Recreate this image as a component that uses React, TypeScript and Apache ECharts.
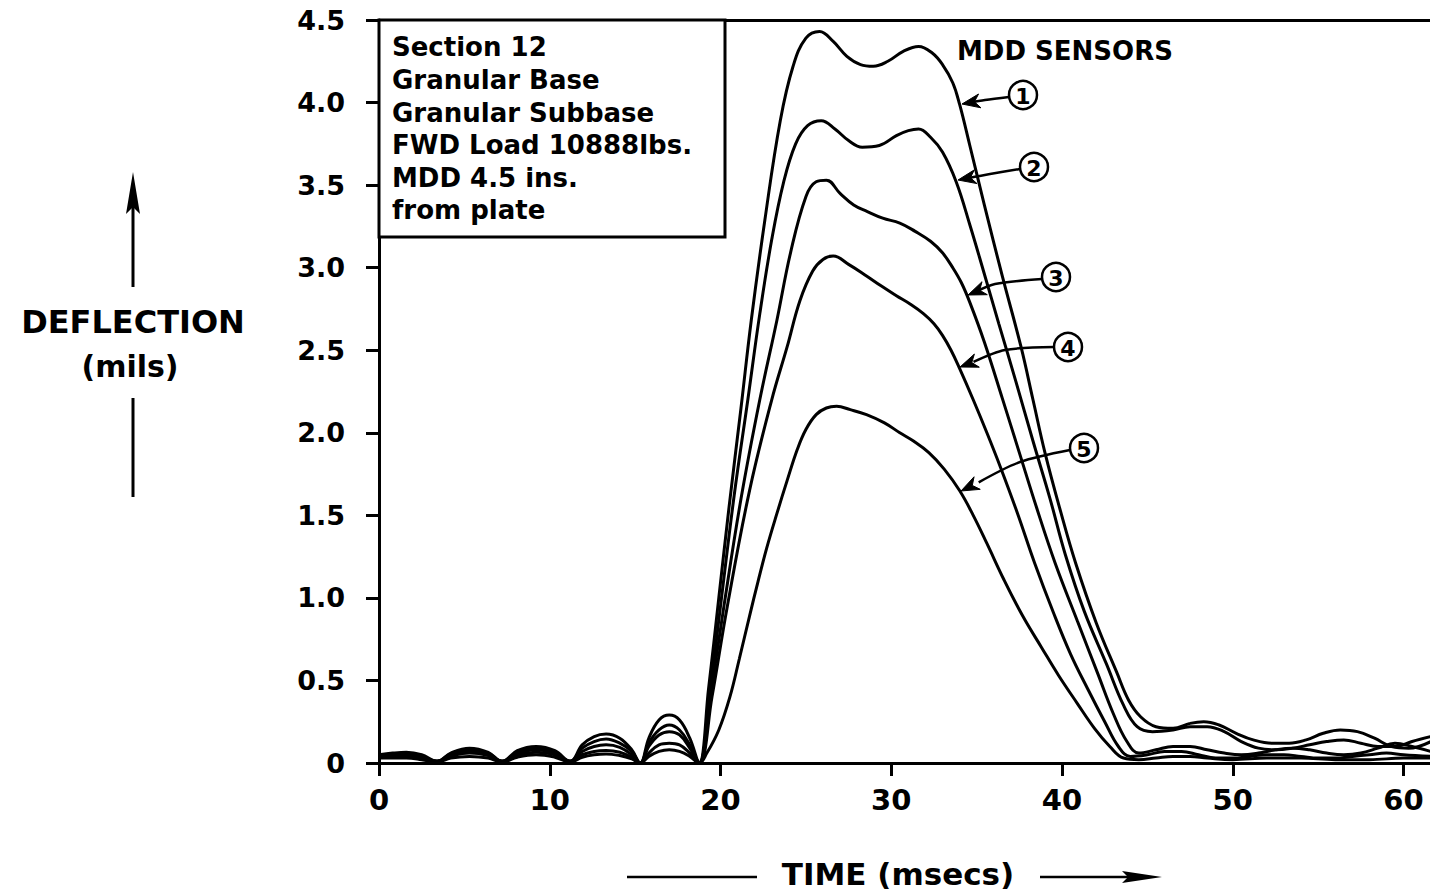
import React, { useEffect, useRef } from 'react';
import * as echarts from 'echarts';

// ---------- data ----------
const xTickValues = [0, 10, 20, 30, 40, 50, 60];
const yTickStep = 0.5;
const sensorNames = ['1', '2', '3', '4', '5'];
const infoLines = ['Section 12', 'Granular Base', 'Granular Subbase', 'FWD Load 10888lbs.', 'MDD 4.5 ins.', 'from plate'];

const sensor1: [number, number][] = [
  [0, 0.05], [0.8, 0.06], [1.6, 0.065], [2.5, 0.05], [3.4, 0.01],
  [4.2, 0.06], [5.3, 0.09], [6.4, 0.065], [7.2, 0.01],
  [8.1, 0.075], [9.2, 0.1], [10.3, 0.075], [11.2, 0.01],
  [11.9, 0.11], [12.6, 0.16], [13.3, 0.175], [14.1, 0.15], [14.8, 0.08], [15.3, 0.0],
  [15.8, 0.15], [16.4, 0.26], [17.0, 0.29], [17.6, 0.26], [18.2, 0.15], [18.75, 0.0],
  [19.3, 0.45], [19.9, 1.0], [20.5, 1.55], [21.2, 2.15], [21.8, 2.68], [22.6, 3.29], [23.5, 3.89],
  [24.25, 4.22], [25.0, 4.39], [25.8, 4.43], [26.6, 4.37], [27.4, 4.28], [28.2, 4.23], [28.95, 4.22],
  [29.8, 4.25], [30.7, 4.31], [31.6, 4.34], [32.4, 4.3], [33.0, 4.23], [33.6, 4.12], [34.0, 3.99],
  [34.6, 3.74], [35.45, 3.38], [36.5, 2.95], [37.6, 2.52], [38.3, 2.2], [39.0, 1.88], [39.9, 1.53],
  [40.8, 1.21], [42.0, 0.85], [43.2, 0.55], [43.9, 0.38], [44.6, 0.28], [45.5, 0.22], [46.5, 0.21],
  [47.5, 0.24], [48.3, 0.25], [49.2, 0.23], [50.2, 0.18], [51.2, 0.14], [52.3, 0.12], [53.3, 0.12],
  [54.3, 0.14], [55.3, 0.18], [56.3, 0.2], [57.3, 0.19], [58.3, 0.15], [59.3, 0.1], [60.3, 0.09], [61.6, 0.13],
];

const sensor2: [number, number][] = [
  [0, 0.045], [0.8, 0.055], [1.6, 0.055], [2.5, 0.04], [3.4, 0.01],
  [4.2, 0.055], [5.3, 0.08], [6.4, 0.06], [7.2, 0.01],
  [8.1, 0.065], [9.2, 0.09], [10.3, 0.065], [11.2, 0.01],
  [11.9, 0.09], [12.6, 0.13], [13.3, 0.145], [14.1, 0.12], [14.8, 0.07], [15.3, 0.0],
  [15.8, 0.12], [16.4, 0.2], [17.0, 0.23], [17.6, 0.2], [18.2, 0.11], [18.75, 0.0],
  [19.4, 0.45], [20.0, 0.95], [20.8, 1.62], [21.6, 2.2], [22.3, 2.72], [23.0, 3.17], [23.7, 3.52],
  [24.4, 3.75], [25.1, 3.86], [25.9, 3.89], [26.7, 3.84], [27.5, 3.77], [28.3, 3.73], [29.3, 3.74],
  [30.3, 3.8], [31.0, 3.83], [31.6, 3.84], [32.3, 3.79], [33.0, 3.7], [33.8, 3.52], [34.6, 3.26],
  [35.4, 2.98], [36.3, 2.66], [37.3, 2.31], [38.3, 1.95], [39.3, 1.6], [40.2, 1.26], [41.3, 0.92],
  [42.6, 0.6], [43.6, 0.35], [44.4, 0.22], [45.3, 0.19], [46.5, 0.2], [47.5, 0.22], [48.5, 0.22],
  [49.5, 0.19], [50.5, 0.13], [51.5, 0.09], [52.5, 0.08], [53.5, 0.09], [54.5, 0.11], [55.5, 0.13],
  [56.5, 0.14], [57.5, 0.12], [58.5, 0.1], [59.5, 0.1], [60.5, 0.13], [61.6, 0.16],
];

const sensor3: [number, number][] = [
  [0, 0.04], [0.8, 0.045], [1.6, 0.045], [2.5, 0.035], [3.4, 0.01],
  [4.2, 0.045], [5.3, 0.07], [6.4, 0.05], [7.2, 0.01],
  [8.1, 0.055], [9.2, 0.08], [10.3, 0.055], [11.2, 0.01],
  [11.9, 0.07], [12.6, 0.1], [13.3, 0.11], [14.1, 0.095], [14.8, 0.05], [15.3, 0.0],
  [15.8, 0.1], [16.4, 0.17], [17.0, 0.19], [17.6, 0.17], [18.2, 0.09], [18.75, 0.0],
  [19.4, 0.4], [20.2, 0.95], [21.2, 1.6], [22.3, 2.2], [23.3, 2.68], [24.1, 3.09], [25.0, 3.43],
  [25.6, 3.52], [26.2, 3.53], [27.0, 3.45], [27.8, 3.38], [28.6, 3.34], [29.5, 3.3], [30.5, 3.27],
  [31.4, 3.22], [32.3, 3.16], [33.0, 3.09], [33.6, 3.0], [34.1, 2.91], [34.6, 2.79], [35.45, 2.55],
  [36.5, 2.21], [37.5, 1.88], [38.5, 1.55], [39.6, 1.21], [40.9, 0.86], [42.1, 0.54], [43.0, 0.3],
  [43.8, 0.13], [44.5, 0.06], [45.5, 0.08], [46.5, 0.1], [47.5, 0.1], [48.5, 0.08], [49.5, 0.06],
  [50.5, 0.05], [51.5, 0.06], [52.5, 0.08], [53.5, 0.09], [54.5, 0.08], [55.5, 0.06], [56.5, 0.05],
  [57.5, 0.06], [58.5, 0.09], [59.5, 0.12], [60.5, 0.1], [61.6, 0.07],
];

const sensor4: [number, number][] = [
  [0, 0.035], [0.8, 0.04], [1.6, 0.04], [2.5, 0.03], [3.4, 0.01],
  [4.2, 0.04], [5.3, 0.06], [6.4, 0.045], [7.2, 0.01],
  [8.1, 0.045], [9.2, 0.065], [10.3, 0.05], [11.2, 0.01],
  [11.9, 0.05], [12.6, 0.07], [13.3, 0.075], [14.1, 0.065], [14.8, 0.035], [15.3, 0.0],
  [15.8, 0.06], [16.4, 0.11], [17.0, 0.12], [17.6, 0.11], [18.2, 0.06], [18.75, 0.0],
  [19.5, 0.4], [20.4, 0.95], [21.7, 1.65], [23.0, 2.2], [23.9, 2.52], [24.65, 2.8], [25.4, 2.98],
  [26.0, 3.05], [26.6, 3.07], [27.5, 3.02], [28.55, 2.95], [29.4, 2.89], [30.3, 2.83], [31.1, 2.78],
  [31.9, 2.72], [32.5, 2.66], [33.0, 2.59], [33.5, 2.5], [34.0, 2.39], [34.8, 2.2], [35.6, 2.0],
  [36.4, 1.79], [37.4, 1.51], [38.4, 1.21], [39.5, 0.91], [40.5, 0.66], [41.5, 0.45], [42.5, 0.25],
  [43.3, 0.1], [44.0, 0.04], [45.0, 0.05], [46.0, 0.07], [47.0, 0.07], [48.0, 0.05], [49.0, 0.03],
  [50.0, 0.03], [51.0, 0.04], [52.0, 0.05], [53.0, 0.05], [54.0, 0.04], [55.0, 0.03], [56.0, 0.03],
  [57.0, 0.04], [58.0, 0.05], [59.0, 0.06], [60.0, 0.05], [61.6, 0.04],
];

const sensor5: [number, number][] = [
  [0, 0.03], [0.8, 0.03], [1.6, 0.03], [2.5, 0.02], [3.4, 0.005],
  [4.2, 0.03], [5.3, 0.04], [6.4, 0.03], [7.2, 0.005],
  [8.1, 0.035], [9.2, 0.05], [10.3, 0.035], [11.2, 0.005],
  [11.9, 0.035], [12.6, 0.05], [13.3, 0.055], [14.1, 0.045], [14.8, 0.025], [15.3, 0.0],
  [15.8, 0.04], [16.4, 0.07], [17.0, 0.08], [17.6, 0.07], [18.2, 0.04], [18.75, 0.0],
  [19.2, 0.06], [19.9, 0.2], [20.55, 0.4], [21.1, 0.63], [21.7, 0.89], [22.2, 1.1], [22.7, 1.3],
  [23.3, 1.51], [23.9, 1.71], [24.5, 1.9], [25.0, 2.02], [25.6, 2.11], [26.2, 2.15], [26.8, 2.16],
  [27.6, 2.14], [28.55, 2.11], [29.6, 2.06], [30.5, 2.0], [31.3, 1.95], [32.2, 1.88], [33.1, 1.78],
  [34.0, 1.65], [34.8, 1.5], [35.6, 1.33], [36.6, 1.11], [37.7, 0.89], [38.8, 0.7], [39.8, 0.53],
  [40.9, 0.36], [41.9, 0.21], [42.8, 0.1], [43.6, 0.03], [44.5, 0.02], [45.5, 0.03], [46.5, 0.04],
  [47.5, 0.04], [48.5, 0.03], [50.0, 0.02], [52.0, 0.03], [54.0, 0.03], [56.0, 0.02], [58.0, 0.02],
  [60.0, 0.03], [61.6, 0.03],
];

const sensors = [sensor1, sensor2, sensor3, sensor4, sensor5];

// ---------- layout (pixels) ----------
const FONT = '"DejaVu Sans", "Liberation Sans", sans-serif';
const GRID_LEFT = 379;
const GRID_TOP = 20;
const GRID_BOTTOM_Y = 763;
const X_MAX = 61.55;

// circle centre, arrow path (from circle to tip on curve)
const callouts: { c: [number, number]; path: [number, number][] }[] = [
  { c: [1023, 95], path: [[1009, 97], [985, 100], [962, 104]] },
  { c: [1034, 167], path: [[1020, 169], [990, 174], [958, 180]] },
  { c: [1056, 277], path: [[1042, 279], [995, 284], [968, 295]] },
  { c: [1068, 347], path: [[1054, 347], [1005, 350], [960, 367]] },
  { c: [1084, 448], path: [[1070, 450], [1020, 462], [961, 491]] },
];

function arrowHead(tip: [number, number], from: [number, number], len = 18, half = 7) {
  const dx = tip[0] - from[0];
  const dy = tip[1] - from[1];
  const d = Math.hypot(dx, dy) || 1;
  const ux = dx / d;
  const uy = dy / d;
  const bx = tip[0] - ux * len;
  const by = tip[1] - uy * len;
  const px = -uy * half;
  const py = ux * half;
  const nx = tip[0] - ux * len * 0.7;
  const ny = tip[1] - uy * len * 0.7;
  return {
    type: 'polygon',
    z: 20,
    shape: { points: [tip, [bx + px, by + py], [nx, ny], [bx - px, by - py]] },
    style: { fill: '#000', stroke: '#000', lineWidth: 1 },
  };
}

export default function App() {
  const ref = useRef<HTMLDivElement>(null);

  useEffect(() => {
    const chart = echarts.init(ref.current!, undefined, { renderer: 'svg' });

    const graphics: any[] = [];

    // info box
    graphics.push({
      type: 'rect',
      z: 10,
      shape: { x: GRID_LEFT, y: GRID_TOP, width: 346, height: 217 },
      style: { fill: '#fff', stroke: '#000', lineWidth: 3 },
    });
    graphics.push({
      type: 'text',
      z: 11,
      x: 392,
      y: 31,
      style: {
        text: infoLines.join('\n'),
        fontFamily: FONT,
        fontWeight: 'bold',
        fontSize: 26,
        lineHeight: 32.6,
        fill: '#000',
        verticalAlign: 'top',
        align: 'left',
      },
    });

    // MDD SENSORS
    graphics.push({
      type: 'text',
      z: 11,
      x: 957,
      y: 51,
      style: {
        text: 'MDD SENSORS',
        fontFamily: FONT,
        fontWeight: 'bold',
        fontSize: 26,
        fill: '#000',
        verticalAlign: 'middle',
        align: 'left',
      },
    });

    callouts.forEach((co, i) => {
      graphics.push({
        type: 'circle',
        z: 20,
        shape: { cx: co.c[0], cy: co.c[1], r: 14 },
        style: { fill: '#fff', stroke: '#000', lineWidth: 2.5 },
      });
      graphics.push({
        type: 'text',
        z: 21,
        x: co.c[0],
        y: co.c[1] + 1,
        style: {
          text: sensorNames[i],
          fontFamily: FONT,
          fontWeight: 'bold',
          fontSize: 22,
          fill: '#000',
          align: 'center',
          verticalAlign: 'middle',
        },
      });
      const p = co.path;
      const tip = p[p.length - 1];
      const shaftEnd = p[p.length - 2];
      graphics.push({
        type: 'polyline',
        z: 19,
        shape: { points: p.slice(0, p.length - 1).concat([[tip[0] + (shaftEnd[0] - tip[0]) * 0.3, tip[1] + (shaftEnd[1] - tip[1]) * 0.3]]), smooth: 0.3 },
        style: { stroke: '#000', lineWidth: 2.5, fill: 'none' },
      });
      graphics.push(arrowHead(tip, shaftEnd));
    });

    // Y axis title with arrows
    graphics.push({
      type: 'line',
      shape: { x1: 133, y1: 287, x2: 133, y2: 205 },
      style: { stroke: '#000', lineWidth: 3 },
    });
    graphics.push({
      type: 'polygon',
      shape: { points: [[133, 172], [140, 214], [133, 207], [126, 214]] },
      style: { fill: '#000' },
    });
    graphics.push({
      type: 'line',
      shape: { x1: 133, y1: 398, x2: 133, y2: 497 },
      style: { stroke: '#000', lineWidth: 3 },
    });
    graphics.push({
      type: 'text',
      x: 133,
      y: 322,
      style: {
        text: 'DEFLECTION',
        fontFamily: FONT,
        fontWeight: 'bold',
        fontSize: 32,
        fill: '#000',
        align: 'center',
        verticalAlign: 'middle',
      },
    });
    graphics.push({
      type: 'text',
      x: 130,
      y: 366,
      style: {
        text: '(mils)',
        fontFamily: FONT,
        fontWeight: 'bold',
        fontSize: 30,
        fill: '#000',
        align: 'center',
        verticalAlign: 'middle',
      },
    });

    // X axis title with arrows
    graphics.push({
      type: 'line',
      shape: { x1: 627, y1: 877, x2: 757, y2: 877 },
      style: { stroke: '#000', lineWidth: 2.5 },
    });
    graphics.push({
      type: 'text',
      x: 898,
      y: 874,
      style: {
        text: 'TIME (msecs)',
        fontFamily: FONT,
        fontWeight: 'bold',
        fontSize: 31,
        fill: '#000',
        align: 'center',
        verticalAlign: 'middle',
      },
    });
    graphics.push({
      type: 'line',
      shape: { x1: 1040, y1: 877, x2: 1140, y2: 877 },
      style: { stroke: '#000', lineWidth: 2.5 },
    });
    graphics.push({
      type: 'polygon',
      shape: { points: [[1162, 877], [1122, 871], [1128, 877], [1122, 883]] },
      style: { fill: '#000' },
    });

    const option: any = {
      animation: false,
      backgroundColor: '#fff',
      grid: {
        left: GRID_LEFT,
        top: GRID_TOP,
        right: 0,
        bottom: 892 - GRID_BOTTOM_Y,
        containLabel: false,
      },
      xAxis: [
        {
          type: 'value',
          min: 0,
          max: X_MAX,
          interval: 10,
          axisLine: { show: true, onZero: false, lineStyle: { color: '#000', width: 3 } },
          axisTick: { show: true, length: 13, customValues: xTickValues, lineStyle: { color: '#000', width: 3 } },
          axisLabel: {
            customValues: xTickValues,
            margin: 22,
            color: '#000',
            fontFamily: FONT,
            fontWeight: 'bold',
            fontSize: 29,
          },
          splitLine: { show: false },
        },
        {
          type: 'value',
          position: 'top',
          min: 0,
          max: X_MAX,
          axisLine: { show: true, onZero: false, lineStyle: { color: '#000', width: 3 } },
          axisTick: { show: false },
          axisLabel: { show: false },
          splitLine: { show: false },
        },
      ],
      yAxis: {
        type: 'value',
        min: 0,
        max: 4.5,
        interval: yTickStep,
        axisLine: { show: true, lineStyle: { color: '#000', width: 3 } },
        axisTick: { show: true, length: 13, lineStyle: { color: '#000', width: 3 } },
        axisLabel: {
          margin: 34,
          color: '#000',
          fontFamily: FONT,
          fontWeight: 'bold',
          fontSize: 27,
          formatter: (v: number) => (v === 0 ? '0' : v.toFixed(1)),
        },
        splitLine: { show: false },
      },
      series: sensors.map((d, i) => ({
        name: 'Sensor ' + sensorNames[i],
        type: 'line',
        xAxisIndex: 0,
        data: d,
        showSymbol: false,
        smooth: 0.4,
        clip: true,
        silent: true,
        lineStyle: { color: '#000', width: 3 },
        z: 3,
      })),
      graphic: graphics,
    };

    chart.setOption(option);
    return () => chart.dispose();
  }, []);

  return (
    <div
      ref={ref}
      style={{ position: 'fixed', left: 0, top: 0, width: 1430, height: 892, background: '#fff' }}
    />
  );
}
